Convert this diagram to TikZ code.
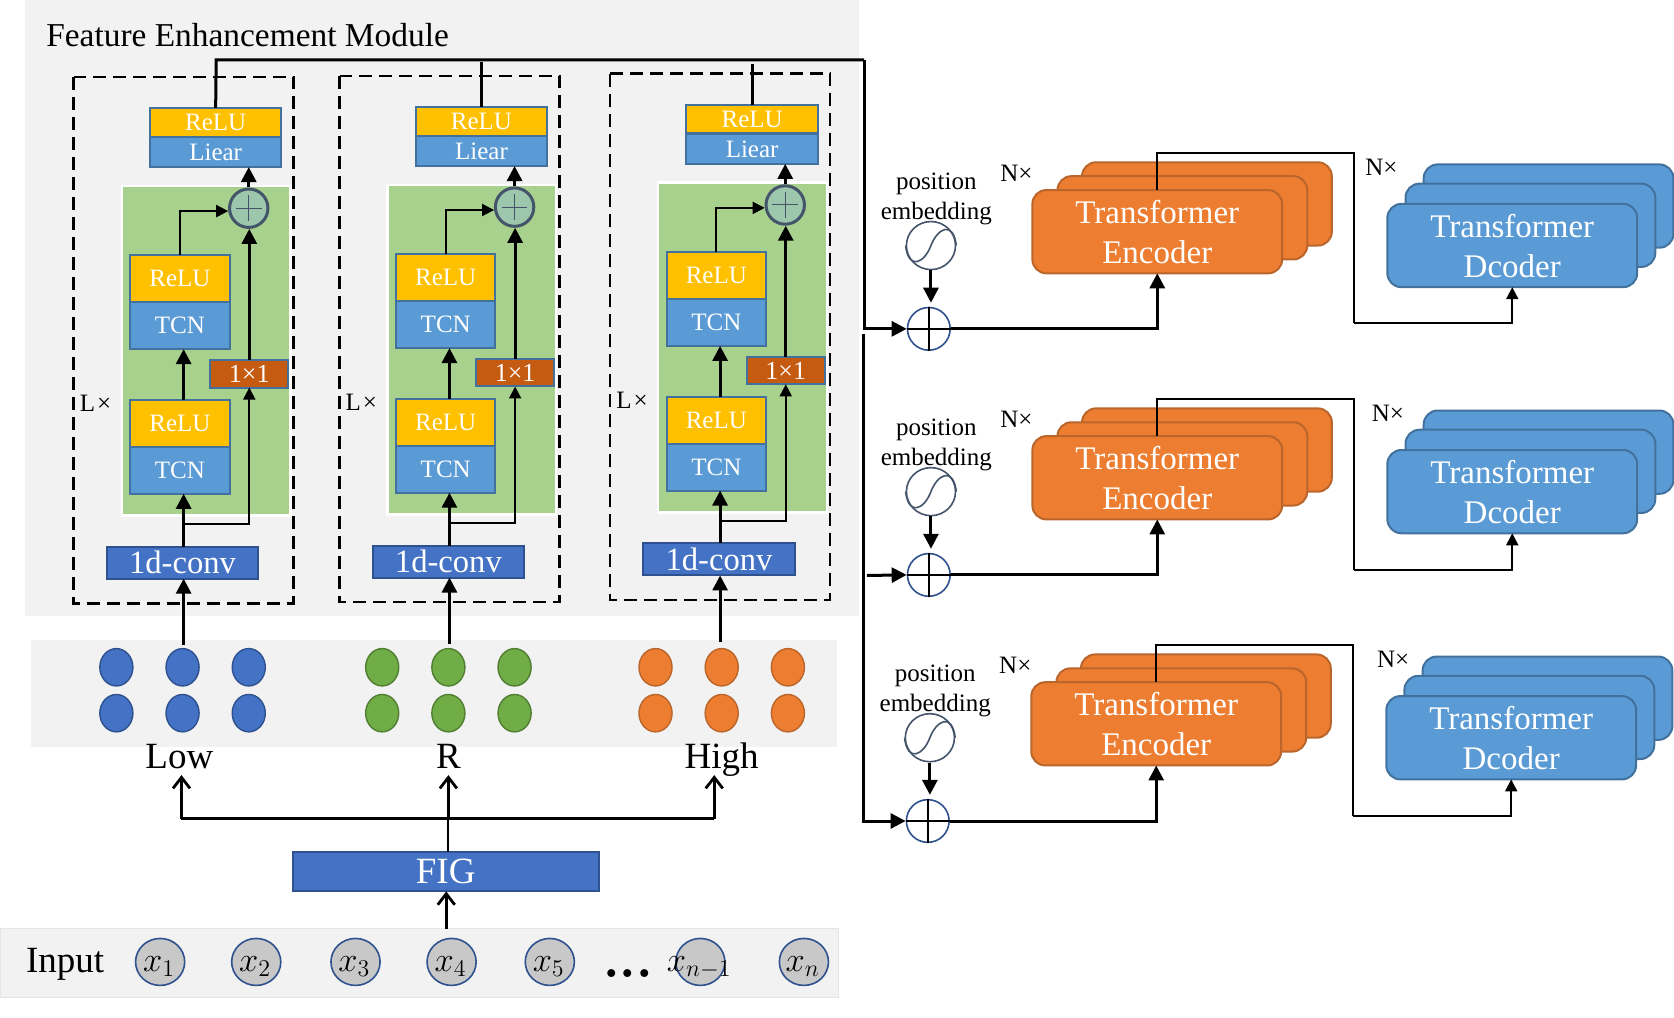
\documentclass[tikz,border=0pt]{standalone}
\usepackage{amsmath}
\usepackage{fontspec}
\setmainfont{Liberation Serif}
\usetikzlibrary{arrows.meta, positioning, calc, shapes.geometric}
\definecolor{PanelGrey}{HTML}{F2F2F2}
\definecolor{GroupGreen}{HTML}{A9D18E}
\definecolor{ReluGold}{HTML}{FFC000}
\definecolor{SkyBlue}{HTML}{5B9BD5}
\definecolor{EdgeBlue}{HTML}{41719C}
\definecolor{RoyalBlue}{HTML}{4472C4}
\definecolor{DeepBlue}{HTML}{2F528F}
\definecolor{RustRed}{HTML}{C55A11}
\definecolor{EncOrange}{HTML}{ED7D31}
\definecolor{EncEdge}{HTML}{B9652C}
\definecolor{DotGreen}{HTML}{70AD47}
\definecolor{DotGreenE}{HTML}{507E32}
\definecolor{NodeGrey}{HTML}{C8C8C8}
\definecolor{SlateGrey}{HTML}{44546A}
\def\ux{0.5338pt}
\begin{document}
\begin{tikzpicture}[
        x=0.5338pt, y=-0.5338pt, >=Stealth,
        blk/.style={draw=EdgeBlue, line width=1pt, inner sep=0pt, outer sep=0pt, text=white,
          font=\fontsize{12.5}{15}\selectfont},
        reluT/.style={blk, fill=ReluGold, minimum width=123*\ux, minimum height=27*\ux},
        liear/.style={blk, fill=SkyBlue, minimum width=123*\ux, minimum height=28*\ux},
        reluB/.style={blk, fill=ReluGold, minimum width=93*\ux, minimum height=44*\ux},
        tcnB/.style={blk, fill=SkyBlue, minimum width=93*\ux, minimum height=44*\ux},
        oneone/.style={blk, fill=RustRed, minimum width=73*\ux, minimum height=26*\ux,
          font=\fontsize{13}{15}\selectfont},
        convB/.style={blk, draw=DeepBlue, fill=RoyalBlue, minimum width=142*\ux, minimum height=30*\ux,
          font=\fontsize{16.3}{18}\selectfont},
        figB/.style={blk, draw=DeepBlue, fill=RoyalBlue, minimum width=287*\ux, minimum height=37*\ux,
          font=\fontsize{18.5}{20}\selectfont},
        sumG/.style={ellipse, draw=SlateGrey, line width=1.5pt, fill=GroupGreen!70!SkyBlue!90, inner sep=0pt,
          minimum width=36*\ux, minimum height=36*\ux},
        sumW/.style={ellipse, draw=DeepBlue, line width=0.8pt, fill=white, inner sep=0pt,
          minimum width=40*\ux, minimum height=40*\ux},
        sineW/.style={ellipse, draw=SlateGrey, line width=0.8pt, inner sep=0pt,
          minimum width=46*\ux, minimum height=45*\ux},
        stackE/.style={draw=EncEdge, line width=1pt, fill=EncOrange, rounded corners=7pt, text=white,
          inner sep=0pt, outer sep=0pt, align=center, minimum width=234*\ux, minimum height=78*\ux,
          font=\fontsize{16.5}{20}\selectfont},
        stackD/.style={stackE, draw=EdgeBlue, fill=SkyBlue},
        dotB/.style={ellipse, draw=DeepBlue, line width=0.7pt, fill=RoyalBlue, inner sep=0pt,
          minimum width=31*\ux, minimum height=35*\ux},
        dotG/.style={dotB, draw=DotGreenE, fill=DotGreen},
        dotO/.style={dotB, draw=EncEdge, fill=EncOrange},
        xCirc/.style={ellipse, draw=DeepBlue, line width=0.8pt, fill=NodeGrey, inner sep=0pt,
          minimum width=46*\ux, minimum height=44*\ux},
        smallT/.style={font=\fontsize{12.5}{15}\selectfont, inner sep=0pt, align=center},
        bigT/.style={font=\fontsize{18.5}{20}\selectfont, inner sep=0pt, anchor=base},
        xT/.style={font=\fontsize{17.28}{20}\selectfont, inner sep=0pt},
        arrT/.style={-{Stealth[length=7.5pt,width=7.5pt,inset=0pt]}, line width=1.5pt},
        arrS/.style={-{Stealth[length=6pt,width=6pt,inset=0pt]}, line width=1pt},
        arrO/.style={-{Straight Barb[length=5.5pt,width=8.5pt]}, line width=1.4pt},
        rail/.style={line width=1.5pt},
        railA/.style={rail, -{Stealth[length=7.5pt,width=7.5pt,inset=0pt]}},
      ]
        \useasboundingbox (0,0) rectangle (1568,953.5);
        % grey strips
        \fill[PanelGrey] (23,0) rectangle (805,577);
        \fill[PanelGrey] (29,599) rectangle (784,700);
        \fill[PanelGrey, draw=black!10] (0,870) rectangle (785,934);
        \node[font=\fontsize{16.7}{18}\selectfont, anchor=west, inner sep=0pt] (femtitle) at (43,33) {Feature Enhancement Module};
        % the three columns of the module
        \coordinate (railTop) at (202.5,56);
        \coordinate (railCorner) at (809.5,56);
        \foreach \i/\dx/\dy in {a/0/0, b/249/-1, c/502.5/-3}{
          \begin{scope}[shift={(\dx,\dy)}]
            \draw[line width=1.3pt, dash pattern=on 6.5pt off 3.5pt] (69,72) rectangle (275,565);
            \fill[GroupGreen, draw=white, line width=1.2pt] (114,174) rectangle (272,483);
            \node[reluT] (top\i) at (202,114.5) {ReLU};
            \node[liear] (lin\i) at (202,142.5) {Liear};
            \node[sumG] (sum\i) at (233,195) {};
            \draw[SlateGrey, line width=0.5pt] ($(sum\i.center)+(-12,0)$) -- ($(sum\i.center)+(12,0)$);
            \draw[SlateGrey, line width=0.5pt] ($(sum\i.center)+(0,-12)$) -- ($(sum\i.center)+(0,12)$);
            \node[reluB] (relB\i) at (168.5,261) {ReLU};
            \node[tcnB] (tcnB\i) at (168.5,305) {TCN};
            \node[reluB] (relA\i) at (168.5,396.5) {ReLU};
            \node[tcnB] (tcnA\i) at (168.5,440.5) {TCN};
            \node[oneone] (one\i) at (233.5,350) {1×1};
            \node[convB] (conv\i) at (171,527) {1d-conv};
            \node[smallT] (lnum\i) at (89.5,378) {L\kern1pt×};
            \coordinate (brch\i) at (172,491);
            \coordinate (feed\i) at (172,604);
            \draw[arrT] (feed\i) -- (conv\i.south -| feed\i);
            \draw[arrT] (conv\i.north -| feed\i) -- (tcnA\i.south -| feed\i);
            \draw[arrS] (brch\i) -| (one\i.south);
            \draw[arrT] (relA\i.north -| feed\i) -- (tcnB\i.south -| feed\i);
            \draw[arrT] (one\i.north) -- (sum\i.south -| one\i.north);
            \draw[arrS] (relB\i.north) |- (sum\i.188);
            \draw[arrT] (sum\i.north) -- (lin\i.south -| sum\i.north);
          \end{scope}
        }
        % feedback rail to the adders
        \draw[rail] (topa.north) -- (railTop) -- (railCorner);
        \draw[rail] (topb.north) -- (topb.north |- 0,58);
        \draw[rail] (topc.north) -- (topc.north |- 0,60);
        % one row per encoder / decoder
        \foreach \r/\dx/\dy/\nd in {1/0/0/1294, 2/0/230.5/1300, 3/-1/461/1306}{
          \begin{scope}[shift={(\dx,\dy)}]
            \node[stackE] (encC\r) at (1130.5,191) {};
            \node[stackE] (encB\r) at (1107.5,204) {};
            \node[stackE] (enc\r) at (1084,217) {Transformer\\Encoder};
            \node[stackD] (decC\r) at (1450.5,193) {};
            \node[stackD] (decB\r) at (1433.5,211) {};
            \node[stackD] (dec\r) at (1416.5,230) {Transformer\\Dcoder};
            \node[smallT] (emb\r) at (877,186.5) {\fontsize{12.5}{15}\selectfont position\\embedding};
            \node[sineW] (sine\r) at (872,230) {};
            \draw[SlateGrey, line width=0.8pt] (sine\r.west) .. controls +(3,24) and +(-6,16) .. (sine\r.center) .. controls +(6,-16) and +(-3,-24) .. (sine\r.east);
            \node[sumW] (add\r) at (870,308) {};
            \draw[line width=0.8pt] (add\r.north) -- (add\r.south);
            \draw[line width=0.8pt] (add\r.west) -- (add\r.east);
            \node[smallT] (nEnc\r) at (952,162) {N×};
            \node[smallT] (nDec\r) at (\nd,157) {N×};
            \coordinate (upK\r) at (1268,143);
            \coordinate (dnK\r) at (1268,303);
            \draw[arrT, shorten >=2pt] (sine\r.south) -- (sine\r.south |- add\r.north);
            \draw[railA] (add\r.east) -| (enc\r.south);
            \draw[line width=1pt] (enc\r.north) |- (upK\r) -- (dnK\r);
            \draw[arrS] (dnK\r) -| (dec\r.south);
          \end{scope}
        }
        \draw[railA] (railCorner) |- (add1.west);
        \coordinate (railLow) at (808.5,313);
        \draw[railA] (railLow) |- (add3.west);
        \coordinate (railMid) at (812,539);
        \draw[railA] (railMid) -- (add2.west);
        % features per band
        \foreach \s/\m/\px in {B/dotB/0, G/dotG/249, O/dotO/505}{
          \foreach \k/\cx in {1/109, 2/171, 3/233}{
            \node[\m] (dot\s\k) at (\cx+\px,625) {};
            \node[\m] (dut\s\k) at (\cx+\px,668) {};
          }
        }
        \node[bigT] (low) at (168,720) {Low};
        \node[bigT] (mid) at (420,720) {R};
        \node[bigT] (high) at (676,720) {High};
        % FIG splits into the three bands
        \node[figB] (fig) at (417.5,816.5) {FIG};
        \coordinate (forkL) at (170,767);
        \coordinate (forkR) at (669,767);
        \coordinate (forkM) at (420,767);
        \draw[line width=1.5pt] (forkL) -- (forkR);
        \draw[line width=1.1pt] (fig.north -| forkM) -- (forkM);
        \draw[arrO] (forkL) -- ($(forkL)+(0,-41)$);
        \draw[arrO] (forkM) -- ($(forkM)+(0,-41)$);
        \draw[arrO] (forkR) -- ($(forkR)+(0,-41)$);
        \coordinate (inTop) at (418,870);
        \draw[arrO] (inTop) -- (fig.south -| inTop);
        % input sequence
        \node[bigT] (inp) at (61,911) {Input};
        \foreach \n/\cx/\lab in {1/150/x_1, 2/240/x_2, 3/333/x_3, 4/423/x_4, 5/515/x_5, 6/656/, 7/753/x_n}{
          \node[xCirc] (x\n) at (\cx,901) {};
          \node[xT] (xl\n) at (\cx-1,905) {$\lab$};
        }
        \node[xT] (xlm) at (655,906) {$x_{n-1}$};
        \node[font=\fontsize{33}{33}\selectfont, inner sep=0pt, anchor=base] (gap) at (588,915) {...};
      \end{tikzpicture}
\end{document}
